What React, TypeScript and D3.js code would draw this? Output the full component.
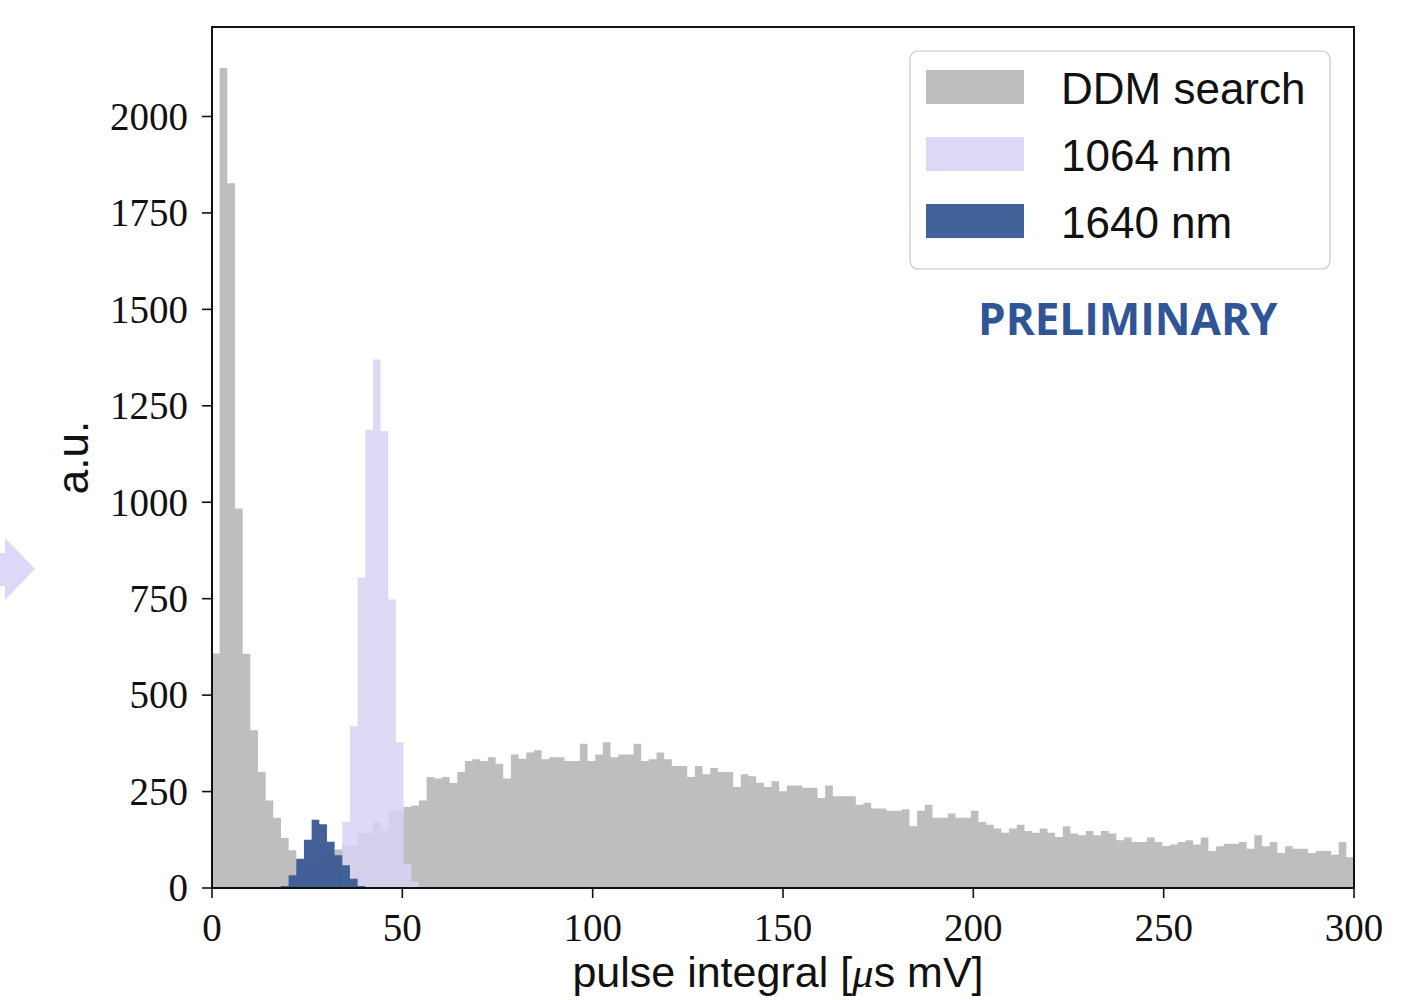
import React from 'react';
import * as d3 from 'd3';

const width = 1424;
const height = 1000;
const margin = { top: 27, right: 70, bottom: 112, left: 212 };

// histogram binning: 149 equal bins between 0 and 300
const xMin = 0;
const xMax = 300;
const binCount = 149;

// DDM search counts, one per bin
const ddmSearch = [
  608, 2126, 1827, 984, 607, 409, 301, 227, 182, 130,
  98, 72, 66, 70, 80, 90, 100, 111, 111, 142,
  142, 171, 150, 200, 200, 210, 214, 227, 288, 284,
  288, 272, 301, 329, 334, 329, 339, 322, 284, 346,
  335, 351, 357, 334, 339, 339, 329, 329, 374, 329,
  346, 378, 339, 346, 346, 374, 329, 334, 351, 334,
  316, 316, 288, 316, 295, 311, 301, 301, 262, 295,
  290, 273, 262, 277, 251, 266, 266, 260, 260, 233,
  266, 238, 238, 238, 216, 221, 206, 206, 200, 200,
  204, 160, 200, 216, 182, 182, 193, 182, 182, 200,
  171, 164, 154, 143, 154, 164, 148, 143, 154, 143,
  132, 160, 141, 137, 148, 137, 148, 141, 124, 131,
  119, 119, 131, 119, 109, 113, 119, 124, 113, 131,
  96, 108, 115, 115, 119, 102, 137, 108, 119, 91,
  108, 102, 102, 91, 96, 96, 86, 119, 80,
];

// laser calibration runs (first non-empty bin + counts)
const laser1064Start = 17;
const laser1064 = [171, 419, 805, 1188, 1370, 1184, 748, 378, 63, 16];
const laser1640Start = 8;
const laser1640 = [2, 5, 33, 76, 125, 177, 165, 120, 85, 59, 24, 5];

const xTicks = [0, 50, 100, 150, 200, 250, 300];
const yTicks = [0, 250, 500, 750, 1000, 1250, 1500, 1750, 2000];
const yMax = 2232;

const legendItems = [
  { label: 'DDM search', color: '#bebebe' },
  { label: '1064 nm', color: '#dcd9f7' },
  { label: '1640 nm', color: '#43629a' },
];

const serif = '"Liberation Serif", "DejaVu Serif", serif';
const sans = '"Liberation Sans", Arial, sans-serif';

function toBins(start: number, values: number[]) {
  const full = new Array(binCount).fill(0);
  values.forEach((v, i) => (full[start + i] = v));
  return full;
}

function App() {
  const x = d3.scaleLinear().domain([xMin, xMax]).range([margin.left, width - margin.right]);
  const y = d3.scaleLinear().domain([0, yMax]).range([height - margin.bottom, margin.top]);
  const binW = (xMax - xMin) / binCount;

  const stepArea = (vals: number[]) => {
    const pts = vals.map((v, i) => [xMin + i * binW, v] as [number, number]);
    pts.push([xMax, vals[vals.length - 1]]);
    return d3
      .area<[number, number]>()
      .x((d) => x(d[0]))
      .y0(y(0))
      .y1((d) => y(d[1]))
      .curve(d3.curveStepAfter)(pts) as string;
  };

  const plotL = x(xMin);
  const plotR = x(xMax);
  const plotT = y(yMax);
  const plotB = y(0);

  return (
    <svg width={width} height={height} style={{ display: 'block', position: 'absolute', left: 0, top: 0 }}>
      <rect width={width} height={height} fill="#fff" />
      {/* slide arrow on the left edge */}
      <path d="M0,553 L5,553 L5,538 L35,569 L5,600 L5,586 L0,586 Z" fill="#dcd9f8" />

      <defs>
        <clipPath id="plot">
          <rect x={plotL} y={plotT} width={plotR - plotL} height={plotB - plotT} />
        </clipPath>
      </defs>

      <g clipPath="url(#plot)">
        <path d={stepArea(ddmSearch)} fill="#bebebe" />
        <path d={stepArea(toBins(laser1064Start, laser1064))} fill="#d8d4f4" fillOpacity={0.85} />
        <path d={stepArea(toBins(laser1640Start, laser1640))} fill="#3d5c95" fillOpacity={0.97} />
      </g>

      {/* frame */}
      <rect x={plotL} y={plotT} width={plotR - plotL} height={plotB - plotT} fill="none" stroke="#111" strokeWidth={2} />

      {/* x ticks */}
      {xTicks.map((t) => (
        <g key={'x' + t}>
          <line x1={x(t)} x2={x(t)} y1={plotB} y2={plotB + 10} stroke="#111" strokeWidth={1.6} />
          <text x={x(t)} y={941} textAnchor="middle" fontFamily={serif} fontSize={39} fill="#111">
            {t}
          </text>
        </g>
      ))}

      {/* y ticks */}
      {yTicks.map((t) => (
        <g key={'y' + t}>
          <line x1={plotL - 10} x2={plotL} y1={y(t)} y2={y(t)} stroke="#111" strokeWidth={1.6} />
          <text x={188} y={y(t)} dy="0.34em" textAnchor="end" fontFamily={serif} fontSize={39} fill="#111">
            {t}
          </text>
        </g>
      ))}

      {/* axis labels */}
      <text x={778} y={987} textAnchor="middle" fontFamily={sans} fontSize={43} fill="#111">
        pulse integral [<tspan fontStyle="italic" fontFamily={serif}>μ</tspan>s mV]
      </text>
      <text
        transform={`translate(88, ${(plotT + plotB) / 2}) rotate(-90)`}
        textAnchor="middle"
        fontFamily={sans}
        fontSize={44}
        fill="#111"
      >
        a.u.
      </text>

      {/* legend */}
      <rect x={910} y={51} width={420} height={218} rx={8} fill="#fff" fillOpacity={0.8} stroke="#d6d6d6" strokeWidth={1.6} />
      {legendItems.map((d, i) => (
        <g key={d.label} transform={`translate(0, ${i * 67})`}>
          <rect x={926} y={70} width={98} height={34} fill={d.color} />
          <text x={1061} y={104} fontFamily={sans} fontSize={44} fill="#111">
            {d.label}
          </text>
        </g>
      ))}

      <text x={978} y={335} fontFamily={'"Open Sans", sans-serif'} fontWeight={700} fontSize={44} fill="#2f5597">
        PRELIMINARY
      </text>
    </svg>
  );
}

export default App;
